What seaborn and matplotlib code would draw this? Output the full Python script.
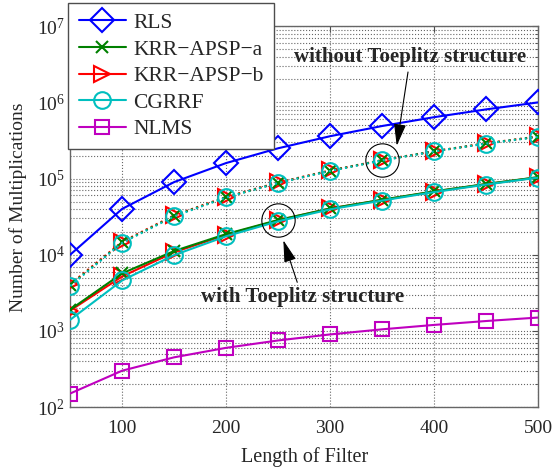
import matplotlib
matplotlib.use("Agg")
import matplotlib.pyplot as plt
import seaborn as sns
import numpy as np
import pandas as pd
from matplotlib.ticker import LogLocator, LogFormatterMathtext, NullFormatter
from matplotlib.lines import Line2D

sns.set_style("white")
plt.rcParams['font.family'] = ['Liberation Serif', 'DejaVu Serif']
plt.rcParams['mathtext.fontset'] = 'custom'
plt.rcParams['mathtext.rm'] = 'Liberation Serif'
plt.rcParams['mathtext.it'] = 'Liberation Serif:italic'

# ---- data ----
filter_length = [50, 100, 150, 200, 250, 300, 350, 400, 450, 500]

rls = [10000, 40000, 90000, 160000, 250000, 360000, 490000, 640000, 810000, 1000000]
nlms = [151, 301, 451, 601, 751, 901, 1051, 1201, 1351, 1501]

# with Toeplitz structure (solid)
krr_a_toep = [1900, 5700, 11200, 18700, 28600, 40500, 52800, 68000, 85000, 104500]
krr_b_toep = [1850, 5200, 10800, 18300, 28300, 40500, 52500, 67500, 84500, 104000]
cgrrf_toep = [1400, 4600, 9900, 17500, 27500, 39500, 51500, 66500, 83500, 103000]

# without Toeplitz structure (dotted)
krr_a_full = [4000, 14500, 32500, 57000, 88000, 127000, 174000, 228000, 290000, 355000]
krr_b_full = [4100, 14800, 33000, 57500, 89000, 128000, 175000, 229000, 291000, 357000]
cgrrf_full = [3900, 14300, 32000, 56500, 87500, 126000, 173000, 227000, 288000, 352000]

labels = ["RLS", "KRR\u2212APSP\u2212a", "KRR\u2212APSP\u2212b", "CGRRF", "NLMS"]
colors = ["#0000FF", "#008000", "#FF0000", "#00BFBF", "#BF00BF"]

ytick_vals = [1e2, 1e3, 1e4, 1e5, 1e6, 1e7]
xtick_vals = [100, 200, 300, 400, 500]

fig = plt.figure(figsize=(5.52, 4.68), dpi=100)
ax = fig.add_axes([0.127, 0.130, 0.848, 0.814])

lw = 1.5
mew = 1.5
styles = [
    dict(marker="D", ms=12),
    dict(marker="x", ms=8),
    dict(marker=">", ms=11),
    dict(marker="o", ms=12),
    dict(marker="s", ms=10),
]

def draw(y, idx, ls, z):
    st = styles[idx]
    sns.lineplot(x=filter_length, y=y, ax=ax, color=colors[idx], linestyle=ls,
                 linewidth=lw, marker=st["marker"], markersize=st["ms"],
                 markerfacecolor="none", markeredgecolor=colors[idx],
                 markeredgewidth=mew, legend=False, zorder=z, errorbar=None)

# dotted (without Toeplitz)
draw(krr_b_full, 2, ":", 3)
draw(krr_a_full, 1, ":", 3.1)
draw(cgrrf_full, 3, ":", 3.2)
# solid
draw(rls, 0, "-", 4)
draw(krr_b_toep, 2, "-", 4)
draw(krr_a_toep, 1, "-", 4.1)
draw(cgrrf_toep, 3, "-", 4.2)
draw(nlms, 4, "-", 4)

ax.set_yscale("log")
ax.set_xlim(50, 500)
ax.set_ylim(1e2, 1e7)
ax.set_xticks(xtick_vals)
ax.set_yticks(ytick_vals)
ax.yaxis.set_major_formatter(LogFormatterMathtext())
ax.yaxis.set_minor_locator(LogLocator(base=10, subs=np.arange(2, 10)))
ax.yaxis.set_minor_formatter(NullFormatter())

ax.grid(True, which="major", axis="both", linestyle=":", color="0.4", linewidth=0.8)
ax.grid(True, which="minor", axis="y", linestyle=":", color="0.4", linewidth=0.8)

ax.tick_params(axis="both", which="both", direction="in", top=True, right=True,
               labelsize=14, color="0.3")
ax.tick_params(axis="both", which="major", length=4)
ax.tick_params(axis="x", which="major", pad=9)
ax.tick_params(axis="y", which="minor", length=2)
for s in ax.spines.values():
    s.set_color("0.4")
    s.set_linewidth(1.0)

ax.set_xlabel("Length of Filter", fontsize=14.5)
ax.xaxis.set_label_coords(0.5, -0.105)
ax.set_ylabel("Number of Multiplications", fontsize=14)
ax.yaxis.set_label_coords(-0.092, 0.525)

# circles around highlighted points
ax.plot([350], [krr_b_full[6]], marker="o", ms=24, mfc="none", mec="black",
        mew=0.8, linestyle="none", zorder=6)
ax.plot([250], [krr_b_toep[4]], marker="o", ms=24, mfc="none", mec="black",
        mew=0.8, linestyle="none", zorder=6)

arrow = dict(arrowstyle="-|>,head_length=0.9,head_width=0.25", color="black",
             lw=0.8, shrinkA=1, shrinkB=0)
ax.annotate("without Toeplitz structure", xy=(364, 2.7e5), xytext=(377, 3.9e6),
            ha="center", va="center", fontsize=15, fontweight="bold",
            arrowprops=arrow, zorder=7)
ax.annotate("with Toeplitz structure", xy=(255, 1.55e4), xytext=(273, 2.8e3),
            ha="center", va="center", fontsize=15, fontweight="bold",
            arrowprops=arrow, zorder=7)

handles = [Line2D([], [], color=colors[i], lw=lw, marker=styles[i]["marker"],
                  ms=styles[i]["ms"], mfc="none", mec=colors[i], mew=mew)
           for i in range(5)]
leg = ax.legend(handles, labels, loc="upper left", bbox_to_anchor=(-0.004, 1.062),
                borderaxespad=0, fontsize=15.5, handlelength=2.2, labelspacing=0.3,
                handletextpad=0.35, borderpad=0.48, fancybox=False, framealpha=1,
                edgecolor="0.3")
leg.get_frame().set_linewidth(1.0)
leg.set_zorder(10)

fig.savefig("out.png", dpi=100)
